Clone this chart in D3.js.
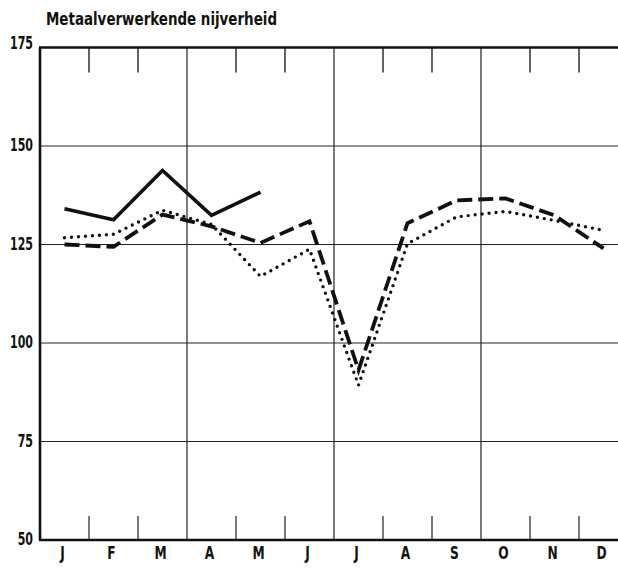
<!DOCTYPE html>
<html>
<head>
<meta charset="utf-8">
<script src="https://cdn.jsdelivr.net/npm/d3@7"></script>
<style>
	body { margin: 0; background: #fff; }
	text { font-family: "Liberation Sans Narrow", "DejaVu Sans Condensed", sans-serif; font-weight: bold; fill: #111; }
</style>
</head>
<body>
<svg id="chart" width="618" height="569"></svg>
<script>
var months = ["J", "F", "M", "A", "M", "J", "J", "A", "S", "O", "N", "D"];
var yTicks = [50, 75, 100, 125, 150, 175];
var title = "Metaalverwerkende nijverheid";

// three years
var solidValues = [134.1, 131.3, 143.8, 132.4, 138.3];
var dashedValues = [125.0, 124.4, 132.6, 129.6, 125.4, 130.9, 93.1, 130.4, 136.2, 136.7, 132.4, 124.0];
var dottedValues = [126.7, 127.6, 133.7, 130.1, 116.9, 123.8, 89.3, 125.2, 132.0, 133.4, 131.1, 128.6];

var narrow = 0.72;

function draw() {
	var svg = d3.select("#chart");
	var x = d3.scaleLinear().domain([0, 12]).range([40, 628]);
	var y = d3.scaleLinear().domain([50, 175]).range([540, 47.5]);

	svg.append("text")
		.attr("x", 46)
		.attr("y", 25)
		.attr("font-size", 17)
		.attr("textLength", 231)
		.attr("lengthAdjust", "spacingAndGlyphs")
		.text(title);

	// horizontal grid
	svg.selectAll("line.hgrid")
		.data([75, 100, 125, 150])
		.enter()
		.append("line")
		.attr("class", "hgrid")
		.attr("x1", x(0)).attr("x2", x(12))
		.attr("y1", function(d) { return y(d); })
		.attr("y2", function(d) { return y(d); })
		.attr("stroke", "#222")
		.attr("stroke-width", 1.2);

	// month boundaries: full lines each quarter, short ticks otherwise
	var bounds = d3.range(1, 12);
	svg.selectAll("line.vgrid")
		.data(bounds.filter(function(d) { return d % 3 == 0; }))
		.enter()
		.append("line")
		.attr("class", "vgrid")
		.attr("x1", function(d) { return x(d); })
		.attr("x2", function(d) { return x(d); })
		.attr("y1", y(175)).attr("y2", y(50))
		.attr("stroke", "#222")
		.attr("stroke-width", 1.2);
	var shortBounds = bounds.filter(function(d) { return d % 3 != 0; });
	svg.selectAll("line.ttick")
		.data(shortBounds)
		.enter()
		.append("line")
		.attr("class", "ttick")
		.attr("x1", function(d) { return x(d); })
		.attr("x2", function(d) { return x(d); })
		.attr("y1", y(175)).attr("y2", y(175) + 25)
		.attr("stroke", "#222")
		.attr("stroke-width", 1.4);
	svg.selectAll("line.btick")
		.data(shortBounds)
		.enter()
		.append("line")
		.attr("class", "btick")
		.attr("x1", function(d) { return x(d); })
		.attr("x2", function(d) { return x(d); })
		.attr("y1", y(50) - 24).attr("y2", y(50))
		.attr("stroke", "#222")
		.attr("stroke-width", 1.2);

	// frame
	svg.append("line")
		.attr("x1", x(0) - 1).attr("x2", x(12))
		.attr("y1", y(175)).attr("y2", y(175))
		.attr("stroke", "#111").attr("stroke-width", 2.6);
	svg.append("line")
		.attr("x1", x(0) - 1).attr("x2", x(12))
		.attr("y1", y(50)).attr("y2", y(50))
		.attr("stroke", "#111").attr("stroke-width", 2.4);
	svg.append("line")
		.attr("x1", x(0)).attr("x2", x(0))
		.attr("y1", y(175)).attr("y2", y(50))
		.attr("stroke", "#111").attr("stroke-width", 2.6);

	// y labels
	svg.selectAll("text.ylab")
		.data(yTicks)
		.enter()
		.append("text")
		.attr("class", "ylab")
		.attr("transform", function(d) {
			return "translate(33," + (y(d) + (d == 175 ? 1 : 5)) + ") scale(" + narrow + ",1)";
		})
		.attr("text-anchor", "end")
		.attr("font-size", 17)
		.text(function(d) { return d; });

	// month labels
	svg.selectAll("text.mlab")
		.data(months)
		.enter()
		.append("text")
		.attr("class", "mlab")
		.attr("transform", function(d, i) {
			return "translate(" + (x(i + 0.5) - 2) + ",559) scale(0.8,1)";
		})
		.attr("text-anchor", "middle")
		.attr("font-size", 17)
		.text(function(d) { return d; });

	var line = d3.line()
		.x(function(d, i) { return x(i + 0.5); })
		.y(function(d) { return y(d); });

	svg.append("path")
		.datum(dottedValues)
		.attr("d", line)
		.attr("fill", "none")
		.attr("stroke", "#111")
		.attr("stroke-width", 3.4)
		.attr("stroke-linecap", "round")
		.attr("stroke-dasharray", "0,7");
	svg.append("path")
		.datum(dashedValues)
		.attr("d", line)
		.attr("fill", "none")
		.attr("stroke", "#111")
		.attr("stroke-width", 3.8)
		.attr("stroke-dasharray", "15,6");
	svg.append("path")
		.datum(solidValues)
		.attr("d", line)
		.attr("fill", "none")
		.attr("stroke", "#111")
		.attr("stroke-width", 3.6)
		.attr("stroke-linejoin", "miter");
}

draw();
</script>
</body>
</html>
